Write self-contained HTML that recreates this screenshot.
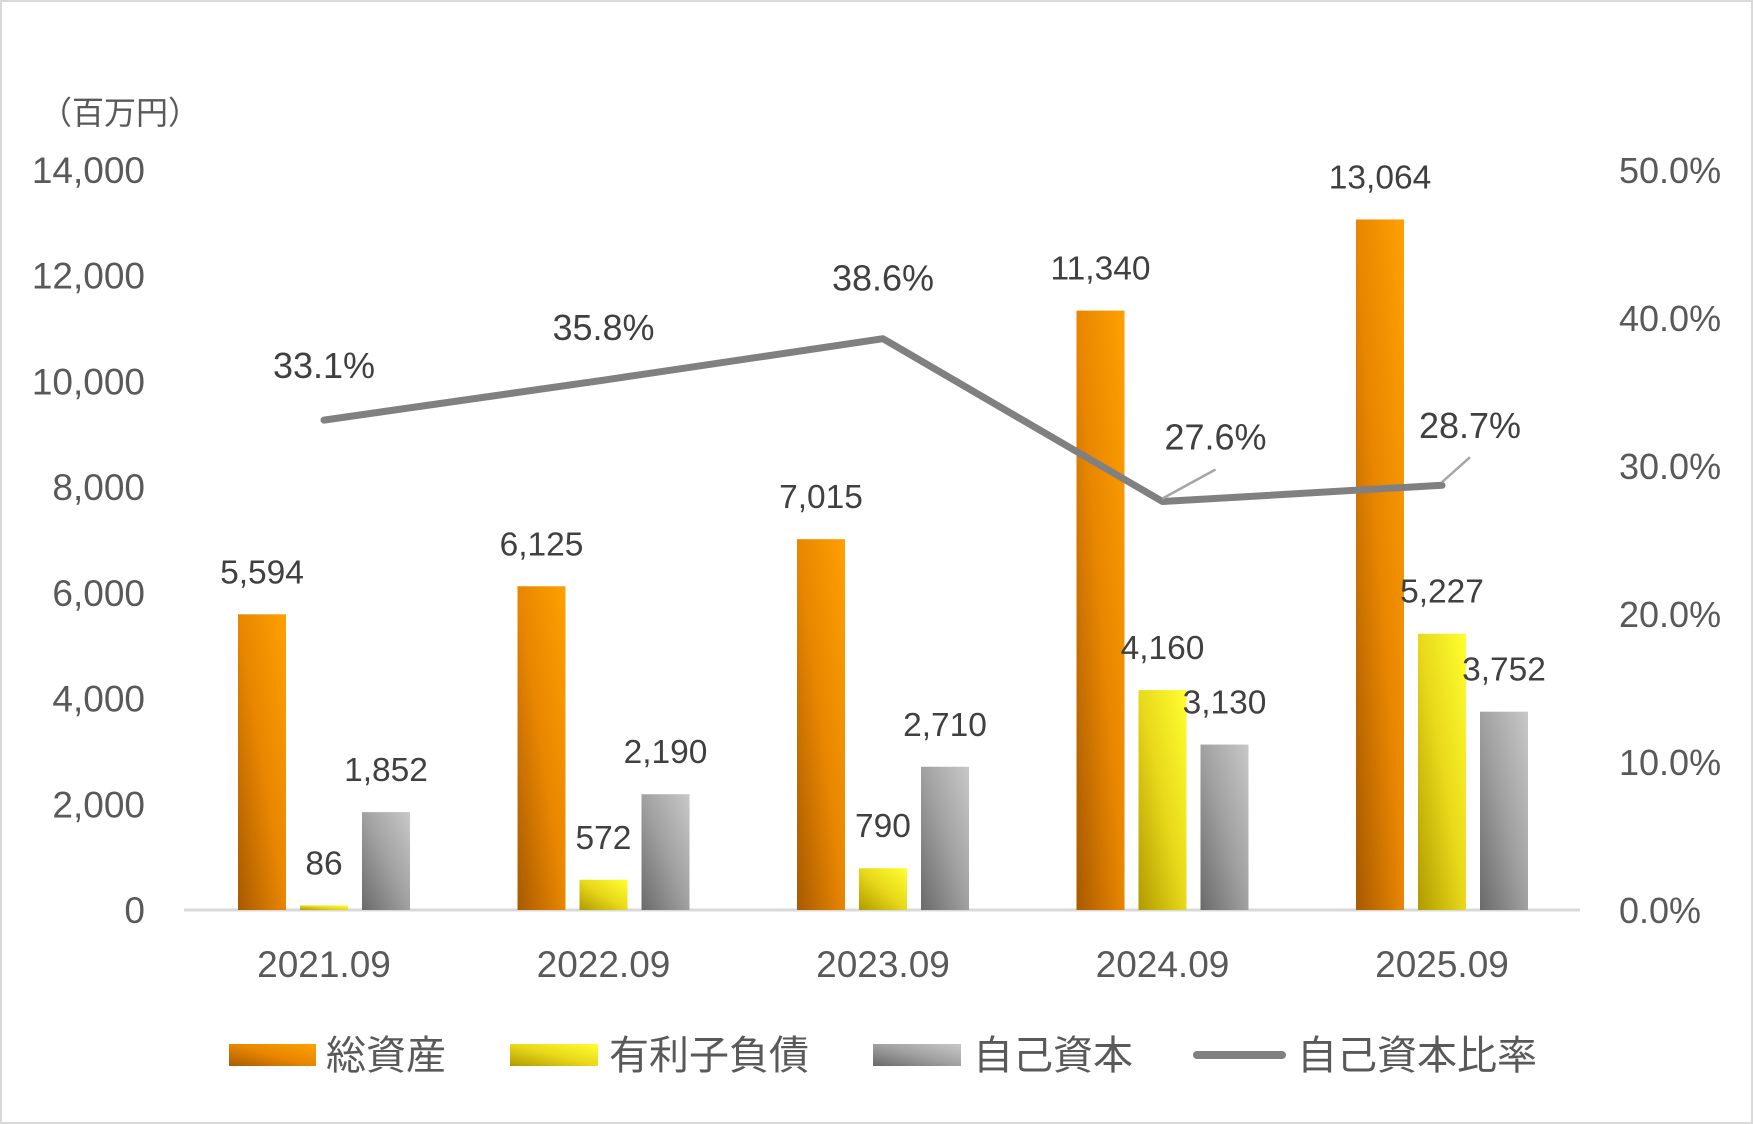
<!DOCTYPE html>
<html><head><meta charset="utf-8"><style>
html,body{margin:0;padding:0;background:#fff}
svg{display:block}
text{font-family:"Liberation Sans","Noto Sans CJK JP",sans-serif}
</style></head><body>
<svg id="chart" width="1753" height="1124" viewBox="0 0 1753 1124" xmlns="http://www.w3.org/2000/svg">
<defs>
<linearGradient id="gO" x1="0" y1="1" x2="1" y2="0"><stop offset="0" stop-color="#a85a00"/><stop offset="0.5" stop-color="#e88600"/><stop offset="1" stop-color="#ffa000"/></linearGradient>
<linearGradient id="gY" x1="0" y1="1" x2="1" y2="0"><stop offset="0" stop-color="#b09a00"/><stop offset="0.5" stop-color="#e8d81a"/><stop offset="1" stop-color="#ffff30"/></linearGradient>
<linearGradient id="gG" x1="0" y1="1" x2="1" y2="0"><stop offset="0" stop-color="#6a6a6a"/><stop offset="0.5" stop-color="#a0a0a0"/><stop offset="1" stop-color="#c8c8c8"/></linearGradient>
</defs>
<rect x="1" y="1" width="1751" height="1122" fill="#fff" stroke="#d9d9d9" stroke-width="2"/>
<text x="40" y="124" font-size="32" fill="#595959">（百万円）</text>
<g id="axes"></g>
<g id="bars"></g>
<g id="line"></g>
<g id="legend">
<rect x="229" y="1044" width="87" height="22" fill="url(#gO)"/>
<text x="326" y="1069" font-size="40" fill="#595959">総資産</text>
<rect x="510" y="1044" width="88" height="22" fill="url(#gY)"/>
<text x="609" y="1069" font-size="40" fill="#595959">有利子負債</text>
<rect x="873" y="1044" width="88" height="22" fill="url(#gG)"/>
<text x="973" y="1069" font-size="40" fill="#595959">自己資本</text>
<line x1="1197" y1="1055" x2="1282" y2="1055" stroke="#808080" stroke-width="8" stroke-linecap="round"/>
<text x="1297" y="1069" font-size="40" fill="#595959">自己資本比率</text>
</g>
</svg>
<script>
const categories = ["2021.09","2022.09","2023.09","2024.09","2025.09"];
const totalAssets = [5594,6125,7015,11340,13064];
const debt = [86,572,790,4160,5227];
const equity = [1852,2190,2710,3130,3752];
const equityRatio = [33.1,35.8,38.6,27.6,28.7];
const leftTicks = [0,2000,4000,6000,8000,10000,12000,14000];
const rightTicks = [0,10,20,30,40,50];

const NS="http://www.w3.org/2000/svg";
const y0=910, yTop=170;
const yL=v=>y0-v/14000*(y0-yTop);
const yR=v=>y0-v/50*(y0-yTop);
const xC=i=>324+i*279.5;
function mk(tag,attrs,parent,txt){const e=document.createElementNS(NS,tag);for(const k in attrs)e.setAttribute(k,attrs[k]);if(txt!==undefined)e.textContent=txt;parent.appendChild(e);return e;}
const axes=document.getElementById('axes'),bars=document.getElementById('bars'),line=document.getElementById('line');
leftTicks.forEach(t=>{const e=mk('text',{x:145,y:yL(t)+13,'font-size':37,fill:'#595959','text-anchor':'end'},axes,t.toLocaleString('en-US'));

});
rightTicks.forEach(t=>{const e=mk('text',{x:1619,y:yR(t)+13,'font-size':36,fill:'#595959'},axes,t.toFixed(1)+'%');

});
const ax=mk('line',{x1:184,y1:y0,x2:1580,y2:y0,stroke:'#d9d9d9','stroke-width':3},axes);


categories.forEach((c,i)=>{const e=mk('text',{x:xC(i),y:977,'font-size':37,fill:'#595959','text-anchor':'middle'},axes,c);

});
const series=[[totalAssets,'gO',-62,'bar-total-assets'],[debt,'gY',0,'bar-debt'],[equity,'gG',62,'bar-equity']];
series.forEach(([vals,g,off,name])=>{vals.forEach((v,i)=>{const cx=xC(i)+off;const top=yL(v);
const r=mk('rect',{x:cx-24,y:top,width:48,height:y0-top,fill:'url(#'+g+')'},bars);


const t=mk('text',{x:cx,y:top-31,'font-size':33.5,fill:'#404040','text-anchor':'middle'},bars,v.toLocaleString('en-US'));

});});
const pts=equityRatio.map((v,i)=>[xC(i),yR(v)]);
const pl=mk('polyline',{points:pts.map(p=>p.join(',')).join(' '),fill:'none',stroke:'#808080','stroke-width':7,'stroke-linejoin':'round','stroke-linecap':'round'},line);


const lblOff=[[0,-42],[0,-40],[0,-48],[53,-52],[28,-47]];
equityRatio.forEach((v,i)=>{const [px,py]=pts[i];const [dx,dy]=lblOff[i];
if(i>=3){const ll=mk('line',{x1:px,y1:py-3,x2:px+dx,y2:py+(i==3?-32:-28),stroke:'#a6a6a6','stroke-width':2.5},line);

}
const t=mk('text',{x:px+dx,y:py+dy,'font-size':36,fill:'#404040','text-anchor':'middle'},line,v.toFixed(1)+'%');

});
</script>
</body></html>
